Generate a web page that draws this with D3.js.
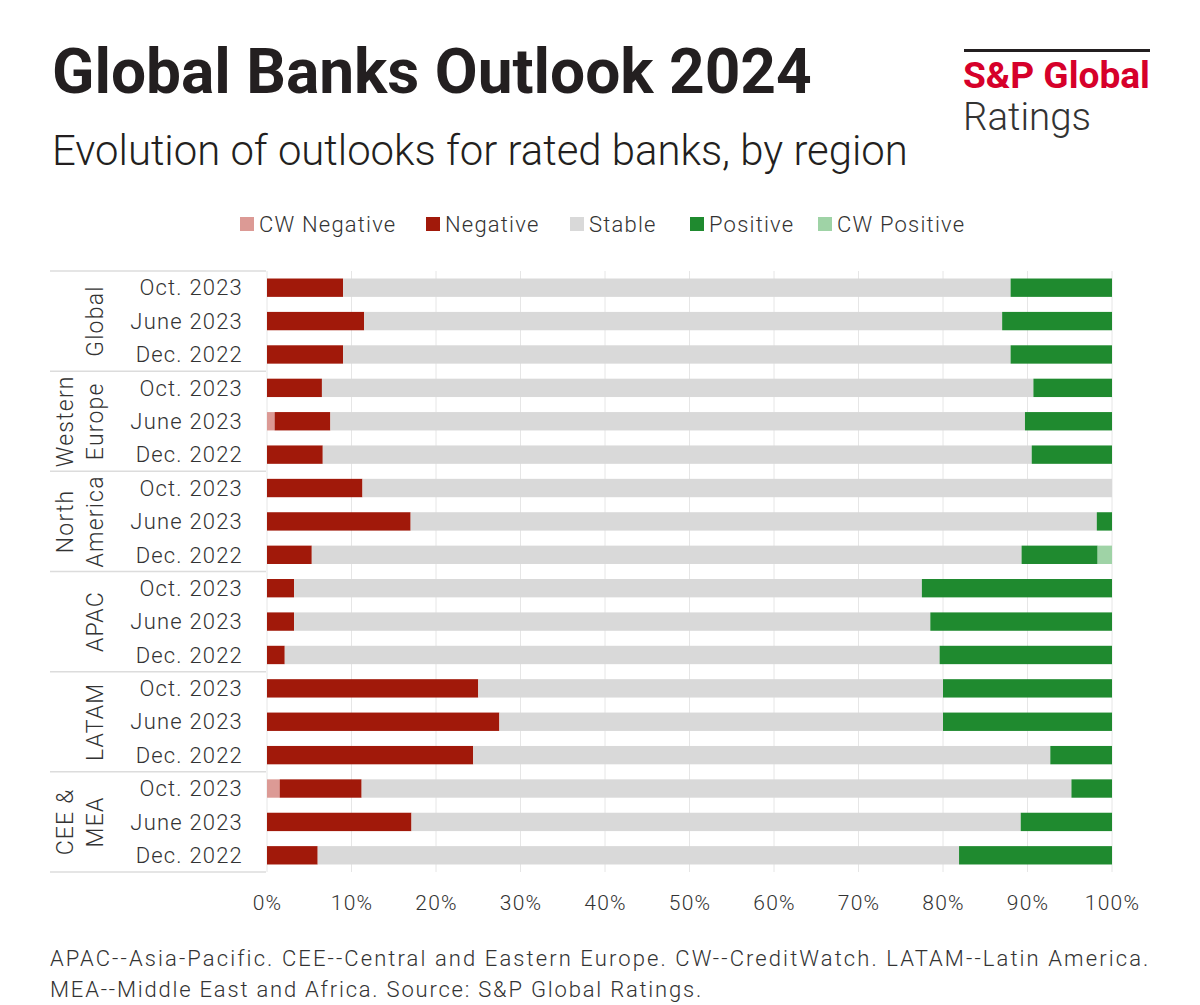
<!DOCTYPE html>
<html>
<head>
<meta charset="utf-8">
<script src="https://cdn.jsdelivr.net/npm/d3@7"></script>
<style>
  html, body { margin: 0; padding: 0; background: #fff; }
  svg { display: block; }
  text { font-family: Roboto, "Noto Sans", sans-serif; fill: #231f20; }
</style>
</head>
<body>
<script>
// ---- data ----
const regions = ["Global", "Western Europe", "North America", "APAC", "LATAM", "CEE & MEA"];
const regionLines = [["Global"], ["Western", "Europe"], ["North", "America"], ["APAC"], ["LATAM"], ["CEE &", "MEA"]];
const periods = ["Oct. 2023", "June 2023", "Dec. 2022"];
const seriesNames = ["CW Negative", "Negative", "Stable", "Positive", "CW Positive"];
const cwNegative = [0, 0, 0,   0, 0.9, 0,   0, 0, 0,   0, 0, 0,   0, 0, 0,   1.5, 0, 0];
const negative   = [9, 11.5, 9,   6.5, 6.6, 6.6,   11.3, 17, 5.3,   3.2, 3.2, 2.1,   25, 27.5, 24.4,   9.7, 17.1, 6];
const stable     = [79, 75.5, 79,   84.2, 82.2, 83.9,   88.7, 81.2, 84,   74.3, 75.3, 77.5,   55, 52.5, 68.3,   84, 72.1, 75.9];
const positive   = [12, 13, 12,   9.3, 10.3, 9.5,   0, 1.8, 9,   22.5, 21.5, 20.4,   20, 20, 7.3,   4.8, 10.8, 18.1];
const cwPositive = [0, 0, 0,   0, 0, 0,   0, 0, 1.7,   0, 0, 0,   0, 0, 0,   0, 0, 0];
const xTicks = [0, 10, 20, 30, 40, 50, 60, 70, 80, 90, 100];
const colors = ["#dc9a95", "#a1190a", "#d9d9d9", "#1f8a2f", "#9fd3a6"];
const footnotes = [
  "APAC--Asia-Pacific. CEE--Central and Eastern Europe. CW--CreditWatch. LATAM--Latin America.",
  "MEA--Middle East and Africa. Source: S&P Global Ratings."
];

// ---- build table ----
const rows = [];
regions.forEach((r, gi) => periods.forEach((p, pi) => {
  const i = gi * 3 + pi;
  rows.push({ key: r + "|" + p, region: r, period: p,
    "CW Negative": cwNegative[i], "Negative": negative[i], "Stable": stable[i],
    "Positive": positive[i], "CW Positive": cwPositive[i] });
}));

const W = 1200, H = 1005;
const svg = d3.select("body").append("svg").attr("width", W).attr("height", H);

const x = d3.scaleLinear().domain([0, 100]).range([267, 1112]);
const y = d3.scaleBand().domain(rows.map(d => d.key)).range([271, 872])
  .paddingInner(0.45).paddingOuter(0.225);
const color = d3.scaleOrdinal().domain(seriesNames).range(colors);

function fitWidth(sel, target) {
  const w = sel.node().getComputedTextLength();
  const fs = parseFloat(sel.attr("font-size"));
  sel.attr("font-size", fs * target / w);
}
function fitSpacing(sel, target) {
  const node = sel.node();
  const w = node.getComputedTextLength();
  const n = node.textContent.length;
  sel.attr("letter-spacing", (target - w) / n);
}

// ---- title ----
const title = svg.append("text").attr("x", 52).attr("y", 93)
  .attr("font-size", 56).attr("font-weight", 700).attr("fill", "#231f20")
  .text("Global Banks Outlook 2024");
fitWidth(title, 760);
const sub = svg.append("text").attr("x", 52).attr("y", 165)
  .attr("font-size", 38).attr("font-weight", 300).attr("fill", "#333")
  .text("Evolution of outlooks for rated banks, by region");
fitWidth(sub, 856);

// ---- logo ----
svg.append("rect").attr("x", 964).attr("y", 49).attr("width", 186).attr("height", 3).attr("fill", "#231f20");
const lg1 = svg.append("text").attr("x", 963).attr("y", 88).attr("font-size", 32)
  .attr("font-weight", 700).style("fill", "#d6002a").text("S&P Global");
fitWidth(lg1, 187);
const lg2 = svg.append("text").attr("x", 963).attr("y", 130).attr("font-size", 36)
  .attr("font-weight", 300).style("fill", "#333").text("Ratings");
fitWidth(lg2, 128);

// ---- legend ----
const legendX = [240, 426, 570, 690, 818];
const lgd = svg.append("g").selectAll("g").data(seriesNames).join("g")
  .attr("transform", (d, i) => `translate(${legendX[i]},224)`);
lgd.append("rect").attr("x", 0).attr("y", -7).attr("width", 14).attr("height", 14).attr("fill", d => color(d));
lgd.append("text").attr("x", 19).attr("dy", "0.35em").attr("font-size", 22).attr("font-weight", 300)
  .attr("letter-spacing", 1.2).style("fill", "#333").text(d => d);

// ---- gridlines ----
svg.append("g").selectAll("line").data(xTicks).join("line")
  .attr("x1", d => x(d)).attr("x2", d => x(d)).attr("y1", 271).attr("y2", 872)
  .attr("stroke", "#e6e6e6").attr("stroke-width", 1);

// ---- bars ----
const stack = d3.stack().keys(seriesNames);
const stacked = stack(rows);
svg.append("g").selectAll("g").data(stacked).join("g")
  .attr("fill", d => color(d.key))
  .selectAll("rect").data(d => d).join("rect")
  .attr("x", d => x(d[0])).attr("width", d => Math.max(0, x(d[1]) - x(d[0])))
  .attr("y", d => y(d.data.key)).attr("height", y.bandwidth());

// ---- category labels ----
svg.append("g").selectAll("text").data(rows).join("text")
  .attr("x", 243).attr("y", d => y(d.key) + y.bandwidth() / 2).attr("dy", "0.35em")
  .attr("text-anchor", "end").attr("font-size", 22).attr("font-weight", 300)
  .attr("letter-spacing", 1.2).style("fill", "#333").text(d => d.period);

// ---- group boxes ----
const step = y.step();
const bounds = d3.range(regions.length + 1).map(k => 271 + k * 3 * step);
svg.append("g").selectAll("line").data(bounds).join("line")
  .attr("x1", 50).attr("x2", 266).attr("y1", d => d).attr("y2", d => d)
  .attr("stroke", "#dcdcdc").attr("stroke-width", 1.5);

const grp = svg.append("g").selectAll("g").data(regions).join("g")
  .attr("transform", (d, i) => `translate(0,${(bounds[i] + bounds[i + 1]) / 2})`);
grp.each(function (d, i) {
  const lines = regionLines[i];
  const g = d3.select(this);
  lines.forEach((ln, li) => {
    const cx = lines.length === 1 ? 95 : (li === 0 ? 65 : 95);
    g.append("text").attr("transform", `translate(${cx},0) rotate(-90)`)
      .attr("text-anchor", "middle").attr("dy", "0.35em")
      .attr("font-size", 23).attr("font-weight", 300).attr("letter-spacing", 1.2)
      .style("fill", "#333").text(ln);
  });
});

// ---- x axis ----
const xAxis = d3.axisBottom(x).tickValues(xTicks).tickFormat(d => d + "%").tickSize(0).tickPadding(0);
const ax = svg.append("g").attr("transform", "translate(0,903)").call(xAxis);
ax.select(".domain").remove();
ax.selectAll("text").attr("font-size", 21).attr("font-weight", 300).attr("letter-spacing", 1.2)
  .attr("font-family", "Roboto, sans-serif").attr("dy", "0.35em").attr("y", 0).style("fill", "#333");

// ---- footnote ----
const fnTargets = [1100, 653];
footnotes.forEach((t, i) => {
  const s = svg.append("text").attr("x", 50).attr("y", 966 + i * 31)
    .attr("font-size", 22).attr("font-weight", 300).style("fill", "#333").text(t);
  fitSpacing(s, fnTargets[i]);
});
</script>
</body>
</html>
